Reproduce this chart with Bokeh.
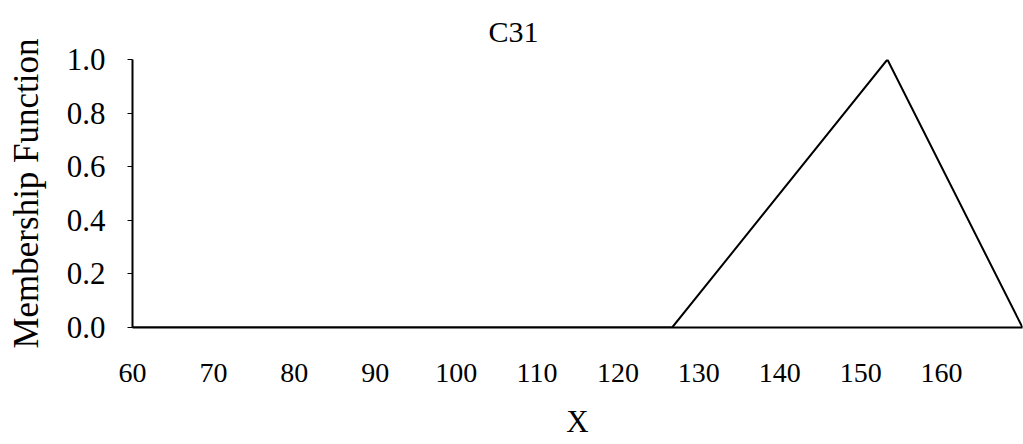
from bokeh.plotting import figure
from bokeh.models import FixedTicker, PrintfTickFormatter, Range1d, Title
from bokeh.embed import file_html
from bokeh.resources import INLINE

# Membership function C31 (piecewise linear, triangular)
x_points = [60, 126.7, 153.3, 170]
mu_points = [0.0, 0.0, 1.0, 0.0]

x_ticks = [60, 70, 80, 90, 100, 110, 120, 130, 140, 150, 160]
y_ticks = [0.0, 0.2, 0.4, 0.6, 0.8, 1.0]

FONT = "Liberation Serif"

p = figure(
    width=1023, height=444,
    output_backend="svg", toolbar_location=None,
    x_range=Range1d(60, 170), y_range=Range1d(0, 1),
    min_border_left=132, min_border_right=1,
    min_border_top=59, min_border_bottom=117,
)
p.title = Title(text="C31", align="left", offset=356,
                text_font=FONT, text_font_size="30px", text_line_height=1.0,
                text_font_style="normal", text_color="black", standoff=23)

p.line(x_points, mu_points, line_color="black", line_width=2)

p.outline_line_color = None
p.grid.visible = False
p.background_fill_color = "white"
p.border_fill_color = "white"

xa = p.xaxis[0]
xa.ticker = FixedTicker(ticks=x_ticks)
xa.axis_label = "X"
xa.axis_label_text_font = FONT
xa.axis_label_text_font_size = "31px"
xa.axis_label_text_font_style = "normal"
xa.axis_label_text_color = "black"
xa.axis_label_standoff = 19
xa.major_label_text_font = FONT
xa.major_label_text_font_size = "28px"
xa.major_label_text_color = "black"
xa.major_label_standoff = 30
xa.major_tick_line_color = None
xa.minor_tick_line_color = None
xa.axis_line_color = "black"
xa.axis_line_width = 2

ya = p.yaxis[0]
ya.ticker = FixedTicker(ticks=y_ticks)
ya.formatter = PrintfTickFormatter(format="%.1f")
ya.axis_label = "Membership Function"
ya.axis_label_text_font = FONT
ya.axis_label_text_font_size = "35px"
ya.axis_label_text_font_style = "normal"
ya.axis_label_text_color = "black"
ya.axis_label_standoff = 18
ya.major_label_text_font = FONT
ya.major_label_text_font_size = "31px"
ya.major_label_text_color = "black"
ya.major_label_standoff = 22
ya.major_tick_in = 0
ya.major_tick_out = 5
ya.major_tick_line_color = "black"
ya.minor_tick_line_color = None
ya.axis_line_color = "black"
ya.axis_line_width = 2

open("out.html", "w").write(file_html(p, INLINE))
